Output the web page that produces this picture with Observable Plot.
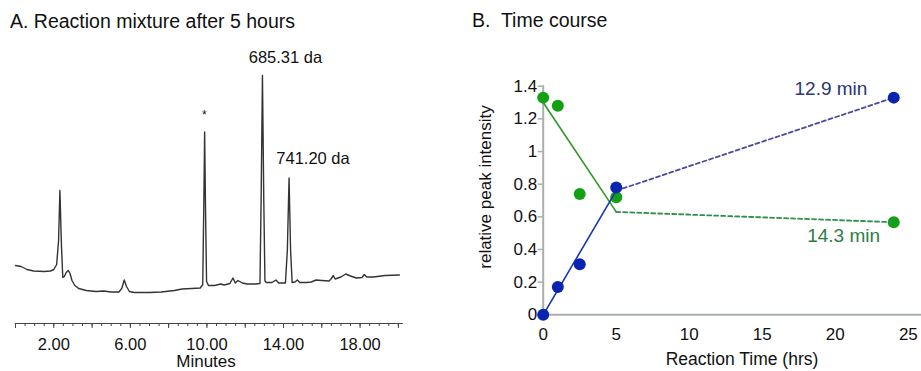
<!DOCTYPE html>
<html><head><meta charset="utf-8">
<script src="https://cdn.jsdelivr.net/npm/d3@7"></script>
<script src="https://cdn.jsdelivr.net/npm/@observablehq/plot@0.6"></script>
<style>
body{margin:0;background:#fff;}
#wrap{position:relative;width:921px;height:371px;overflow:hidden;font-family:"Liberation Sans",Arial,sans-serif;background:#fff;}
#wrap > div, #wrap > svg{position:absolute;top:0;}
</style></head>
<body><div id="wrap"><div id="pa" style="left:0"></div><div id="pb" style="left:440px"></div></div>
<script>
// ---- Panel A: chromatogram (time in minutes, detector signal in arbitrary units)
const chromTime = [0.00,0.3,0.6,0.95,1.5,1.83,2.0,2.15,2.25,2.32,2.40,2.47,2.55,2.65,2.76,2.85,2.95,3.1,3.3,3.7,4.2,4.6,5.0,5.4,5.55,5.68,5.8,5.95,6.2,7.0,7.6,8.3,8.7,9.2,9.65,9.78,9.84,9.88,9.92,9.98,10.08,10.4,10.72,10.9,11.2,11.36,11.48,11.62,11.85,12.1,12.5,12.77,12.83,12.90,12.97,13.03,13.1,13.4,13.6,13.75,14.1,14.2,14.29,14.37,14.45,14.6,14.72,14.85,15.2,15.45,15.7,16.0,16.38,16.5,16.6,16.7,17.0,17.25,17.5,17.8,18.1,18.22,18.35,18.7,19.3,20.05];
const chromSignal = [35,34,31,29.5,29,29.5,31,36,60,110,55,23,24,28,30,27,20,15,12,10,9,9.5,8.5,8.5,12,20.5,14,9,8,8,8.5,10,11.5,12,12.5,16,100,168.5,100,19,15,15,16.5,15.5,17,22.5,17.5,20,17.5,16.5,16.5,17,100,225,100,19.5,18,18,20.5,17.5,17.5,50,122.5,50,18,18.5,20.5,18,18,18.5,20.5,20,19.5,22,25,21.5,23.5,26.5,24.5,22.5,23,26,23.5,23.5,25,25.5];
const chromMinorTicks = d3.range(0, 20.01, 0.5);
const chromMajorTicks = d3.range(0, 20.01, 2);
const chromLabelTicks = [2, 6, 10, 14, 18];
const peakNoteText = ["*", "685.31 da", "741.20 da"];
const peakNoteTime = [9.87, 14.1, 15.54];
const peakNoteSignal = [185, 243, 141.7];
const peakNoteSize = [12, 16.5, 16.5];

// ---- Panel B: time course
const hours = [0, 1, 2.5, 5, 24];
const peak129 = [0, 0.17, 0.31, 0.78, 1.33];
const peak143 = [1.33, 1.28, 0.74, 0.72, 0.567];
const fitHours = [0, 5, 24];
const fit129 = [0, 0.76, 1.33];
const fit143 = [1.30, 0.63, 0.567];
const xTicksB = [0, 5, 10, 15, 20, 25];
const yTicksB = [0, 0.2, 0.4, 0.6, 0.8, 1, 1.2, 1.4];
const seriesLabels = ["12.9 min", "14.3 min"];
const seriesLabelHour = [19.7, 20.57];
const seriesLabelValue = [1.386, 0.486];

const FONT = '"Liberation Sans", Arial, sans-serif';
const chrom = chromTime.map((t, i) => ({t, s: chromSignal[i]}));
const notes = peakNoteText.map((text, i) => ({text, t: peakNoteTime[i], s: peakNoteSignal[i], size: peakNoteSize[i]}));

const A = Plot.plot({
  width: 430, height: 371,
  marginLeft: 15, marginRight: 28.3, marginTop: 0, marginBottom: 48,
  x: {domain: [0, 20.2]},
  y: {domain: [0, 300], range: [300, 0], axis: null},
  style: {fontFamily: FONT, fontSize: "16.5px", color: "#111", background: "transparent", overflow: "visible"},
  marks: [
    Plot.axisX({ticks: chromMinorTicks, tickSize: 3, tickFormat: () => "", label: null, stroke: "#444"}),
    Plot.axisX({ticks: chromMajorTicks, tickSize: 5, tickPadding: 10, label: null, stroke: "#444", fill: "#111",
      tickFormat: d => chromLabelTicks.includes(d) ? d.toFixed(2) : ""}),
    Plot.frame({anchor: "bottom", stroke: "#444", strokeWidth: 1.2}),
    Plot.line(chrom, {x: "t", y: "s", stroke: "#333", strokeWidth: 1.4, strokeLinejoin: "round"}),
    Plot.text(notes, {x: "t", y: "s", text: "text", fontSize: d => d.size, fill: "#111"})
  ]
});
document.getElementById("pa").appendChild(A);

const pts129 = hours.map((h, i) => ({h, v: peak129[i]}));
const pts143 = hours.map((h, i) => ({h, v: peak143[i]}));
const f129 = fitHours.map((h, i) => ({h, v: fit129[i]}));
const f143 = fitHours.map((h, i) => ({h, v: fit143[i]}));
const labs = seriesLabels.map((text, i) => ({text, h: seriesLabelHour[i], v: seriesLabelValue[i]}));
const AX = "#a9b0a9";

const B = Plot.plot({
  width: 481, height: 371,
  marginLeft: 102.7, marginRight: 0, marginTop: 85.7, marginBottom: 56.7,
  x: {domain: [0, 25.9]},
  y: {domain: [0, 1.4]},
  style: {fontFamily: FONT, fontSize: "17px", color: "#111", background: "transparent", overflow: "visible"},
  marks: [
    Plot.axisY({ticks: yTicksB, tickSize: 5, tickPadding: 1, stroke: AX, strokeWidth: 1.5, fill: "#111",
      tickFormat: d => String(+d.toFixed(1)), label: null}),
    Plot.axisX({ticks: xTicksB, tickSize: 0, tickPadding: 13, fill: "#111", label: null}),
    Plot.frame({anchor: "left", stroke: AX, strokeWidth: 2}),
    Plot.frame({anchor: "bottom", stroke: AX, strokeWidth: 2}),
    Plot.dot(pts143, {x: "h", y: "v", r: 6, fill: "#13a013"}),
    Plot.line(f143.slice(0, 2), {x: "h", y: "v", stroke: "#2a9a2a", strokeWidth: 1.6}),
    Plot.line(f143.slice(1), {x: "h", y: "v", stroke: "#2c8f4c", strokeWidth: 1.8, strokeDasharray: "4,3"}),
    Plot.line(f129.slice(0, 2), {x: "h", y: "v", stroke: "#1538b0", strokeWidth: 1.6}),
    Plot.line(f129.slice(1), {x: "h", y: "v", stroke: "#4a4aa0", strokeWidth: 1.8, strokeDasharray: "4,3"}),
    Plot.dot(pts129, {x: "h", y: "v", r: 6, fill: "#0b24b0"}),
    Plot.text(labs, {x: "h", y: "v", text: "text", fontSize: 19, fill: (d, i) => i === 0 ? "#2a3675" : "#2f7d45"})
  ]
});
document.getElementById("pb").appendChild(B);

// Titles and axis titles as overlay text
const ns = "http://www.w3.org/2000/svg";
const ov = document.createElementNS(ns, "svg");
ov.setAttribute("width", 921); ov.setAttribute("height", 371);
ov.style.pointerEvents = "none";
const texts = [
  {t: "A. Reaction mixture after 5 hours", x: 10, y: 28.3, size: 19.5, anchor: "start"},
  {t: "B.  Time course", x: 472, y: 27, size: 19.5, anchor: "start"},
  {t: "Minutes", x: 206, y: 366.5, size: 17, anchor: "middle"},
  {t: "Reaction Time (hrs)", x: 742, y: 365, size: 17.5, anchor: "middle"},
  {t: "relative peak intensity", x: 491, y: 187, size: 17, anchor: "middle", rot: true}
];
for (const d of texts) {
  const el = document.createElementNS(ns, "text");
  el.textContent = d.t;
  el.setAttribute("font-family", FONT);
  el.setAttribute("font-size", d.size);
  el.setAttribute("fill", "#111");
  el.setAttribute("text-anchor", d.anchor);
  el.setAttribute("xml:space", "preserve");
  el.style.whiteSpace = "pre";
  if (d.rot) el.setAttribute("transform", `translate(${d.x},${d.y}) rotate(-90)`);
  else { el.setAttribute("x", d.x); el.setAttribute("y", d.y); }
  ov.appendChild(el);
}
document.getElementById("wrap").appendChild(ov);
</script>
</body></html>
